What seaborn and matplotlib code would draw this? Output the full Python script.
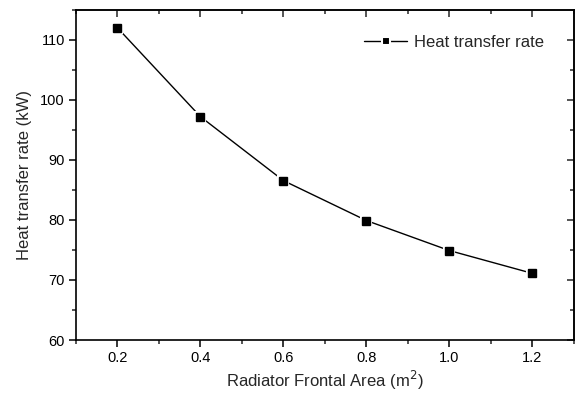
import numpy as np
import pandas as pd
import matplotlib
matplotlib.use("Agg")
import matplotlib.pyplot as plt
import seaborn as sns
from matplotlib.ticker import MultipleLocator

area = [0.2, 0.4, 0.6, 0.8, 1.0, 1.2]
heat_rate = [112.0, 97.2, 86.55, 79.9, 74.9, 71.1]

data = pd.DataFrame({"area": area, "rate": heat_rate})

sns.set_style("ticks")
plt.rcParams['font.family'] = ['Liberation Sans', 'DejaVu Sans']

fig = plt.figure(figsize=(5.81, 3.94), dpi=100)
ax = fig.add_axes([0.1308, 0.137, 0.857, 0.838])

sns.lineplot(x="area", y="rate", data=data, ax=ax, color="black", lw=1.0,
             marker="s", markersize=7, markeredgecolor="white",
             markeredgewidth=1.5, label="Heat transfer rate")
# re-draw markers solid black on top
ax.plot(area, heat_rate, ls="none", marker="s", markersize=6,
        color="black", zorder=5)

ax.set_xlim(0.1, 1.3)
ax.set_ylim(60, 115)
ax.xaxis.set_minor_locator(MultipleLocator(0.1))
ax.yaxis.set_major_locator(MultipleLocator(10))
ax.yaxis.set_minor_locator(MultipleLocator(5))
ax.set_xticks([0.2, 0.4, 0.6, 0.8, 1.0, 1.2])
ax.set_xticklabels(["0.2", "0.4", "0.6", "0.8", "1.0", "1.2"])

ax.tick_params(which="major", direction="out", length=5, width=1.1,
               labelsize=10.5, colors="black", pad=3)
ax.tick_params(which="minor", direction="out", length=3, width=1.1)

# mirrored ticks pointing inward on top and right
top = ax.secondary_xaxis("top")
top.xaxis.set_major_locator(MultipleLocator(0.2))
top.xaxis.set_minor_locator(MultipleLocator(0.1))
top.tick_params(which="major", direction="in", length=5, width=1.1, labeltop=False)
top.tick_params(which="minor", direction="in", length=3, width=1.1)
right = ax.secondary_yaxis("right")
right.yaxis.set_major_locator(MultipleLocator(10))
right.yaxis.set_minor_locator(MultipleLocator(5))
right.tick_params(which="major", direction="in", length=5, width=1.1, labelright=False)
right.tick_params(which="minor", direction="in", length=3, width=1.1)

for sp in ["left", "bottom", "top", "right"]:
    ax.spines[sp].set_visible(True)
    ax.spines[sp].set_linewidth(1.2)
    ax.spines[sp].set_color("black")
top.spines["top"].set_linewidth(1.2)
right.spines["right"].set_linewidth(1.2)

ax.set_xlabel("Radiator Frontal Area (m$^2$)", fontsize=12, labelpad=3)
ax.set_ylabel("Heat transfer rate (kW)", fontsize=12, labelpad=6)

leg = ax.legend(loc="upper right", frameon=False, fontsize=12,
                handlelength=2.6, handletextpad=0.4, markerscale=0.8,
                bbox_to_anchor=(0.97, 0.97))

fig.savefig("out.png", dpi=100)
